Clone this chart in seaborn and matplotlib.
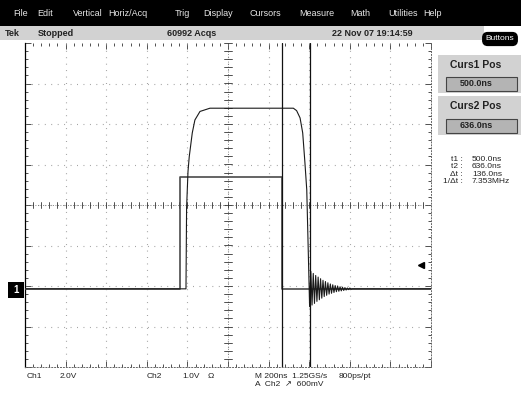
import numpy as np
import seaborn as sns
import matplotlib.pyplot as plt
from matplotlib.patches import Rectangle

W, H = 521, 394

# Waveforms: time in ns, level in volts
ch1_t = [-766, 0, 0, 500, 500, 1234]
ch1_v = [0.0, 0.0, 5.5, 5.5, 0.0, 0.0]

ch2_t = [-766, 27, 30, 37, 43, 58, 71, 96, 145, 556, 572, 589, 602, 613, 622, 630,
         636, 642, 648, 654, 660, 666, 672, 678, 684, 690, 696, 702, 708, 714, 720,
         726, 732, 738, 744, 750, 756, 762, 768, 774, 780, 786, 792, 798, 804, 810,
         816, 822, 828, 834, 840, 846, 900, 1234]
ch2_v = [0.0, 0.0, 2.0, 2.9, 3.26, 3.85, 4.17, 4.38, 4.46, 4.46, 4.40, 4.22, 3.85, 3.11, 2.44, 0.8,
         -0.44, 0.43, -0.40, 0.38, -0.36, 0.33, -0.31, 0.29, -0.27, 0.25, -0.23, 0.21, -0.19, 0.18, -0.16,
         0.15, -0.13, 0.12, -0.11, 0.10, -0.09, 0.08, -0.07, 0.07, -0.06, 0.05, -0.05, 0.04, -0.04, 0.03,
         -0.03, 0.02, -0.02, 0.02, -0.01, 0.0, 0.0, 0.0]

cursor_t = [500.0, 636.0]
ch1_scale, ch2_scale = 2.0, 1.0      # V/div
ground_div = -2.07                    # both channels share the ground level
trig_level = 0.6                      # V on ch2

menu_items = ["File", "Edit", "Vertical", "Horiz/Acq", "Trig", "Display",
              "Cursors", "Measure", "Math", "Utilities", "Help"]
menu_x = [13, 37, 73, 108, 175, 203, 250, 299, 350, 388, 423]

readout_labels = ["t1 :", "t2 :", "\u0394t :", "1/\u0394t :"]
readout_values = ["500.0ns", "636.0ns", "136.0ns", "7.353MHz"]

sns.set_style("white")
plt.rcParams['font.family'] = ['Liberation Sans', 'DejaVu Sans']

fig = plt.figure(figsize=(W / 100, H / 100), dpi=100)


def rect(x0, y0, x1, y1, fc, ec='none', lw=0.0):
    fig.patches.append(Rectangle((x0 / W, 1 - y1 / H), (x1 - x0) / W, (y1 - y0) / H,
                                 transform=fig.transFigure, facecolor=fc,
                                 edgecolor=ec, linewidth=lw, zorder=0))


def txt(x, y, s, size=6.5, color='#222222', weight='normal', ha='left', **kw):
    fig.text(x / W, 1 - y / H, s, fontsize=size, color=color, weight=weight,
             ha=ha, va='center', **kw)


# menu bar and status line
rect(0, 0, W, 26, 'black')
for name, x in zip(menu_items, menu_x):
    txt(x, 14, name, size=6.5, color='#e6e6e6')
rect(0, 26, 484, 40, '#d2d2d2')
txt(5, 33, "Tek", size=6.5, weight='bold')
txt(38, 33, "Stopped", size=6.5, weight='bold')
txt(167, 33, "60992 Acqs", size=6.5, weight='bold')
txt(332, 33, "22 Nov 07 19:14:59", size=6.5, weight='bold')
txt(500, 39, "Buttons", size=6, color='white', ha='center',
    bbox=dict(boxstyle='round,pad=0.35,rounding_size=0.6', fc='black', ec='black'))

# cursor readout panel
for (y0, y1, head, val) in [(55, 93, "Curs1 Pos", "500.0ns"), (96, 135, "Curs2 Pos", "636.0ns")]:
    rect(438, y0, W, y1, '#d2d2d2')
    txt(476, y0 + 10, head, size=7.5, weight='bold', ha='center')
    rect(446, y1 - 16, 517, y1 - 2, '#b4b4b4', ec='#444444', lw=0.8)
    txt(476, y1 - 9, val, size=6.5, weight='bold', ha='center')

for i, (lab, val) in enumerate(zip(readout_labels, readout_values)):
    txt(463, 159 + i * 7.5, lab, size=6, ha='right')
    txt(472, 159 + i * 7.5, val, size=6)

# bottom status
txt(27, 376, "Ch1", size=6)
txt(60, 376, "2.0V", size=6)
txt(147, 376, "Ch2", size=6)
txt(182, 376, "1.0V", size=6)
txt(208, 376, "\u03a9", size=6)
txt(255, 376, "M 200ns  1.25GS/s", size=6)
txt(339, 376, "800ps/pt", size=6)
txt(255, 385, "A  Ch2  \u2197  600mV", size=6)

# graticule area
ax = fig.add_axes([25 / W, 1 - 367 / H, 406 / W, 324 / H])
x0, x1 = -766, 1234
ax.set_xlim(x0, x1)
ax.set_ylim(-4, 4)
ax.set_facecolor('white')

major_x = np.arange(x0, x1 + 1, 200)
minor_x = np.arange(x0, x1 + 1, 40)
ax.set_xticks(major_x)
ax.set_xticks(minor_x, minor=True)
ax.set_yticks(np.arange(-4, 4.01, 1))
ax.set_yticks(np.arange(-4, 4.01, 0.2), minor=True)
ax.tick_params(which='both', direction='in', top=True, right=True, bottom=True, left=True,
               labelbottom=False, labelleft=False, color='#333333', width=0.6)
ax.tick_params(which='major', length=4)
ax.tick_params(which='minor', length=2.5)

ax.spines['top'].set_visible(False)
ax.spines['left'].set_color('black')
ax.spines['left'].set_linewidth(0.9)
for s in ['bottom', 'right']:
    ax.spines[s].set_color('#666666')
    ax.spines[s].set_linestyle((0, (1, 2)))
    ax.spines[s].set_linewidth(0.7)

dots = (0, (0.8, 5))
for xv in major_x[1:-1]:
    ax.axvline(xv, color='#999999', lw=0.8, ls=dots, zorder=1)
for yv in np.arange(-3, 4, 1):
    ax.axhline(yv, color='#999999', lw=0.8, ls=dots, zorder=1)

# centre crosshair with fine ticks
xc = (x0 + x1) / 2
ax.axhline(0, color='#666666', lw=0.6, ls=(0, (1, 2)), zorder=1)
ax.axvline(xc, color='#666666', lw=0.6, ls=(0, (1, 2)), zorder=1)
for xv in minor_x:
    ax.plot([xv, xv], [-0.08, 0.08], color='#333333', lw=0.6, zorder=1)
for yv in np.arange(-4, 4.01, 0.2):
    ax.plot([xc - 18, xc + 18], [yv, yv], color='#333333', lw=0.6, zorder=1)

# traces
ch1_div = [ground_div + v / ch1_scale for v in ch1_v]
ch2_div = [ground_div + v / ch2_scale for v in ch2_v]
sns.lineplot(x=ch1_t, y=ch1_div, ax=ax, sort=False, estimator=None,
             color='#4a4a4a', lw=1.2, zorder=3)
sns.lineplot(x=ch2_t, y=ch2_div, ax=ax, sort=False, estimator=None,
             color='#1a1a1a', lw=0.8, zorder=4)

for t in cursor_t:
    ax.axvline(t, color='#111111', lw=0.9, zorder=5)

# trigger level arrow on the right
ax.plot([0.975], [ground_div + trig_level / ch2_scale], marker='<', ms=4, color='black',
        transform=ax.get_yaxis_transform(), clip_on=False)
ax.set_xlabel('')
ax.set_ylabel('')

# ground marker at left
rect(8, 282, 24, 298, 'black')
txt(16, 290, "1", size=7, color='white', weight='bold', ha='center')

fig.savefig('out.png', dpi=100)
